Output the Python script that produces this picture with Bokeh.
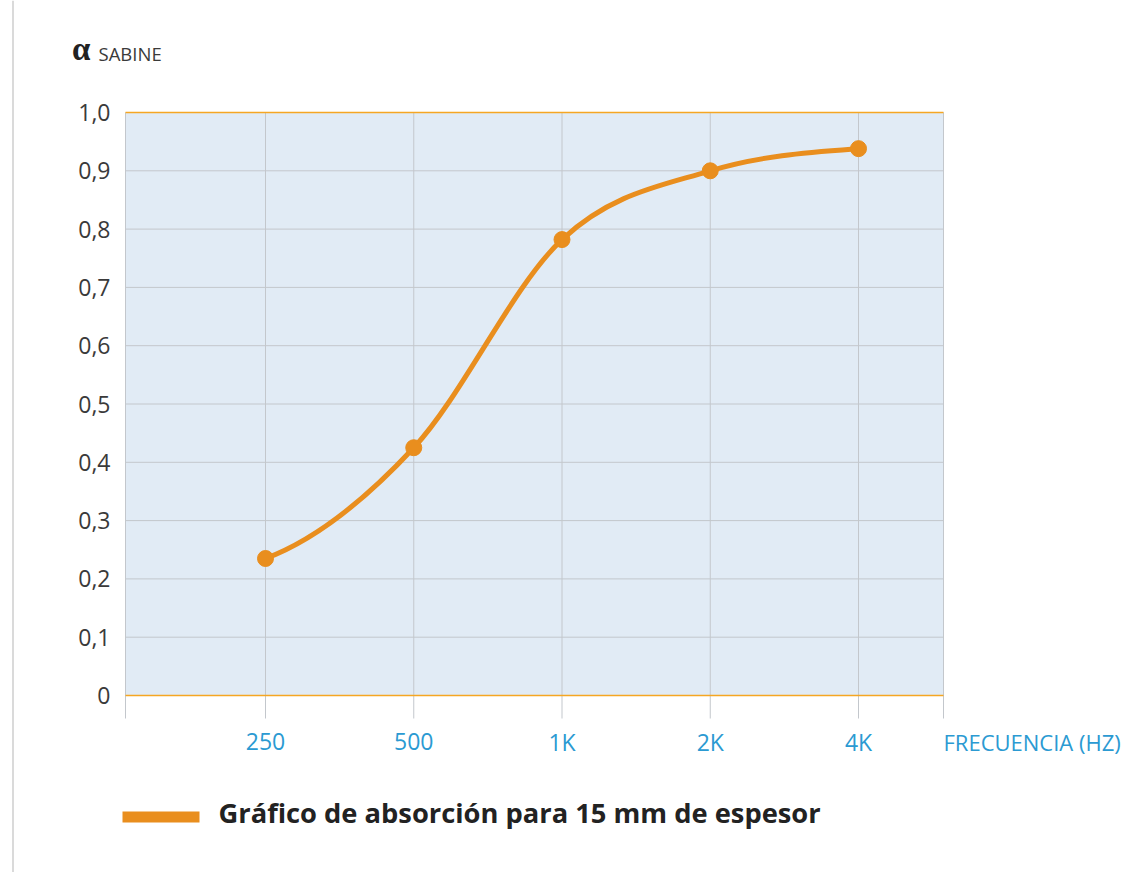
import numpy as np
from bokeh.plotting import figure
from bokeh.models import Range1d
from bokeh.core.properties import value
from bokeh.embed import file_html
from bokeh.resources import INLINE

# ---- data ----
freq_labels = ["250", "500", "1K", "2K", "4K"]
alpha_values = [0.235, 0.425, 0.782, 0.900, 0.938]
y_ticks = [0.0, 0.1, 0.2, 0.3, 0.4, 0.5, 0.6, 0.7, 0.8, 0.9, 1.0]
y_tick_labels = ["0", "0,1", "0,2", "0,3", "0,4", "0,5", "0,6", "0,7", "0,8", "0,9", "1,0"]
legend_text = "Gráfico de absorción para 15 mm de espesor"
x_axis_title = "FRECUENCIA (HZ)"
y_axis_symbol = "α"
y_axis_title = "SABINE"

# ---- styles ----
ORANGE = "#e98e1e"
EDGE_ORANGE = "#f5a623"
GRID = "#c3c7cc"
BG = "#e1ebf5"
BLUE = "#2b9ad2"
DARK = "#3a3a3a"
FONT = value("Open Sans")

# ---- layout (page pixels) ----
W, H = 1125, 872
CAT_PX0, CAT_STEP = 265.0, 148.25     # pixel of first category, spacing
ZERO_PX, UNIT_PX = 695.0, 583.0       # pixel of alpha=0, pixels per alpha unit


def xd(px):
    return 1 + (px - CAT_PX0) / CAT_STEP


def yd(py):
    return (ZERO_PX - py) / UNIT_PX


x_pos = list(range(1, len(freq_labels) + 1))
X0, X1 = xd(125), xd(943)

p = figure(width=W, height=H, output_backend="svg", toolbar_location=None,
           x_range=Range1d(xd(0), xd(W)), y_range=Range1d(yd(H), yd(0)),
           x_axis_type=None, y_axis_type=None, min_border=0)
p.outline_line_color = None
p.background_fill_color = "white"
p.border_fill_color = "white"

# page rule at left
p.segment(x0=[xd(12.5)], y0=[yd(0)], x1=[xd(12.5)], y1=[yd(H)],
          line_color="#dadada", line_width=2)

# plot area
p.quad(left=[X0], right=[X1], bottom=[y_ticks[0]], top=[y_ticks[-1]],
       fill_color=BG, line_color=None)

# vertical grid lines (extend below plot area as tick marks)
vx = [X0] + x_pos + [X1]
p.segment(x0=vx, y0=[yd(718)] * len(vx), x1=vx, y1=[y_ticks[-1]] * len(vx),
          line_color=GRID, line_width=1)

# horizontal grid lines
inner = y_ticks[1:-1]
p.segment(x0=[X0] * len(inner), y0=inner, x1=[X1] * len(inner), y1=inner,
          line_color=GRID, line_width=1)
edges = [y_ticks[0], y_ticks[-1]]
p.segment(x0=[X0] * 2, y0=edges, x1=[X1] * 2, y1=edges,
          line_color=EDGE_ORANGE, line_width=1.5)

# smooth curve (Catmull-Rom -> cubic Bezier, derived from the data)
xs = np.array(x_pos, dtype=float)
ys = np.array(alpha_values, dtype=float)
ext = np.concatenate([[ys[0]], ys, [ys[-1]]])
m = (ext[2:] - ext[:-2]) / 2.0
p.bezier(x0=xs[:-1], y0=ys[:-1], x1=xs[1:], y1=ys[1:],
         cx0=xs[:-1] + 1 / 3, cy0=ys[:-1] + m[:-1] / 3,
         cx1=xs[1:] - 1 / 3, cy1=ys[1:] - m[1:] / 3,
         line_color=ORANGE, line_width=5, line_cap="round")
p.scatter(xs, ys, size=16, fill_color=ORANGE, line_color=ORANGE)

# y tick labels
p.text(x=[xd(110)] * len(y_ticks), y=y_ticks, text=y_tick_labels,
       text_font=FONT, text_font_size="23px", text_color=DARK,
       text_align="right", text_baseline="middle")

# x tick labels + axis title
p.text(x=x_pos, y=[yd(741)] * len(x_pos), text=freq_labels,
       text_font=FONT, text_font_size="23px", text_color=BLUE,
       text_align="center", text_baseline="middle")
p.text(x=[X1], y=[yd(741)], text=[x_axis_title],
       text_font=FONT, text_font_size="22px", text_color=BLUE,
       text_align="left", text_baseline="middle")

# y axis title (alpha SABINE)
p.text(x=[xd(71.5)], y=[yd(48)], text=[y_axis_symbol],
       text_font=value("Liberation Serif"), text_font_style="bold",
       text_font_size="33px", text_color="#222222",
       text_align="left", text_baseline="middle")
p.text(x=[xd(98)], y=[yd(52.5)], text=[y_axis_title],
       text_font=FONT, text_font_size="18.5px", text_color=DARK,
       text_align="left", text_baseline="middle")

# legend
p.quad(left=[xd(122)], right=[xd(199)], bottom=[yd(822)], top=[yd(811)],
       fill_color=ORANGE, line_color=None)
p.text(x=[xd(218)], y=[yd(812)], text=[legend_text],
       text_font=FONT, text_font_style="bold", text_font_size="27.3px",
       text_color="#222222", text_align="left", text_baseline="middle")

open("out.html", "w").write(file_html(p, INLINE))
